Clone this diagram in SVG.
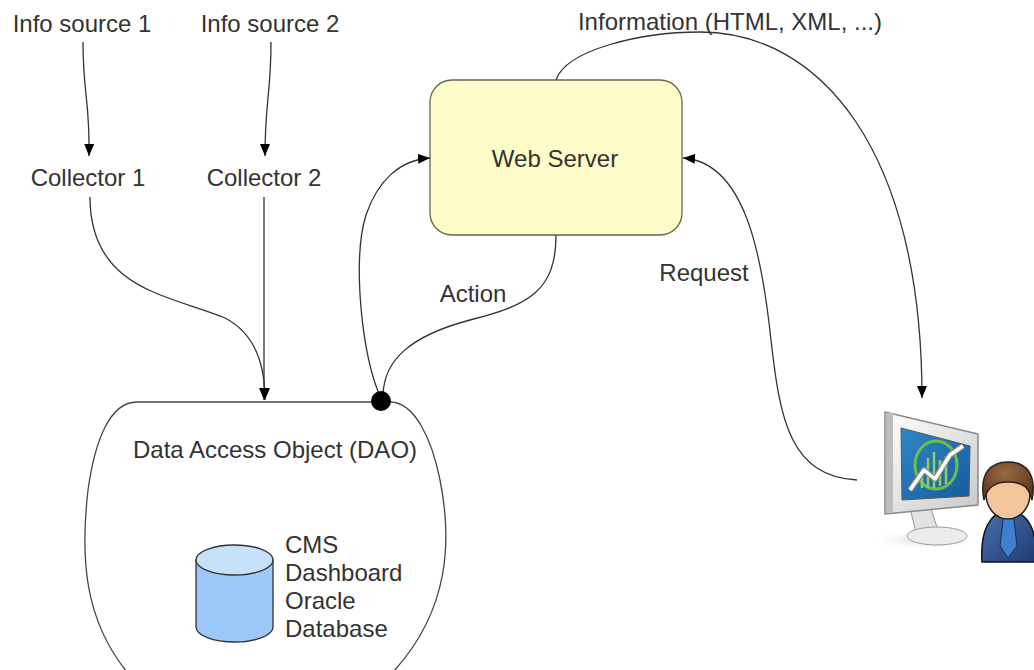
<svg xmlns="http://www.w3.org/2000/svg" width="1034" height="670" viewBox="0 0 1034 670">
  <defs>
    <style>
      .lbl { font-family: "Liberation Sans", Arial, sans-serif; font-size: 24px; fill: #333; }
      .edge { fill: none; stroke: #333; stroke-width: 1.3; }
      .shape { stroke: #444; stroke-width: 1.3; }
    </style>
    <marker id="arrow" viewBox="0 0 12 10" refX="12" refY="5" markerWidth="12" markerHeight="10" markerUnits="userSpaceOnUse" orient="auto">
      <path d="M0,0 L12,5 L0,10 Z" fill="#000"/>
    </marker>
    <linearGradient id="bezel" x1="0" y1="0" x2="1" y2="1">
      <stop offset="0" stop-color="#ffffff"/>
      <stop offset="1" stop-color="#c8c8c8"/>
    </linearGradient>
    <linearGradient id="screen" x1="0" y1="0" x2="1" y2="1">
      <stop offset="0" stop-color="#2f86c8"/>
      <stop offset="1" stop-color="#155c9c"/>
    </linearGradient>
    <radialGradient id="shadow" cx="0.5" cy="0.5" r="0.5">
      <stop offset="0" stop-color="#d8d8d8"/>
      <stop offset="1" stop-color="#ffffff" stop-opacity="0"/>
    </radialGradient>
    <linearGradient id="suit" x1="0" y1="0" x2="1" y2="1">
      <stop offset="0" stop-color="#4a6fae"/>
      <stop offset="1" stop-color="#1f3c73"/>
    </linearGradient>
    <radialGradient id="hair" cx="0.45" cy="0.3" r="0.7">
      <stop offset="0" stop-color="#9a6a45"/>
      <stop offset="1" stop-color="#5e3518"/>
    </radialGradient>
  </defs>

  <rect width="1034" height="670" fill="#fff"/>

  <!-- information sources and collectors -->
  <g id="info-source-1">
    <text class="lbl" x="82" y="32" text-anchor="middle">Info source 1</text>
  </g>
  <g id="info-source-2">
    <text class="lbl" x="270" y="32" text-anchor="middle">Info source 2</text>
  </g>
  <g id="collector-1">
    <text class="lbl" x="88" y="186" text-anchor="middle">Collector 1</text>
  </g>
  <g id="collector-2">
    <text class="lbl" x="264" y="186" text-anchor="middle">Collector 2</text>
  </g>

  <!-- web server -->
  <g id="web-server">
    <rect x="430" y="80" width="252" height="155" rx="22" ry="22" fill="#fefdc9" stroke="#66664d" stroke-width="1.3"/>
    <text class="lbl" x="555" y="167" text-anchor="middle">Web Server</text>
  </g>

  <!-- data access object with the database inside -->
  <g id="dao">
    <path class="shape" fill="#fff" d="M137,402 L390,402 C 415,402 432,440 440,480 C 452,540 450,610 393,672 L127,672 C 85,620 80,560 88,490 C 95,440 110,402 137,402 Z"/>
    <text class="lbl" x="275" y="458" text-anchor="middle">Data Access Object (DAO)</text>
  </g>
  <g id="database">
    <path d="M196,560 L196,627 A 38.5,15 0 0 0 273,627 L273,560 Z" fill="#9cc9f7" stroke="#333" stroke-width="1.3"/>
    <ellipse cx="234.5" cy="560" rx="38.5" ry="15" fill="#c8e1fb" stroke="#333" stroke-width="1.3"/>
    <text class="lbl" x="285" y="553">CMS</text>
    <text class="lbl" x="285" y="581">Dashboard</text>
    <text class="lbl" x="285" y="609">Oracle</text>
    <text class="lbl" x="285" y="637">Database</text>
  </g>

  <!-- user at a monitor -->
  <g id="user">
    <ellipse cx="925" cy="540" rx="60" ry="10" fill="url(#shadow)"/>
    <path d="M910,508 L930,506 L938,530 L916,533 Z" fill="#e2e2e2" stroke="#999" stroke-width="1"/>
    <ellipse cx="937" cy="536" rx="30" ry="9" fill="#ececec" stroke="#9a9a9a" stroke-width="1"/>
    <path d="M885,412 L978,434 L978,505 L885,514 Z" fill="url(#bezel)" stroke="#8a8a8a" stroke-width="1.5" stroke-linejoin="round"/>
    <path d="M886,413 L893,413 L893,512 L886,513 Z" fill="#bdbdbd"/>
    <path d="M901,428 L970,446 L969,496 L902,500 Z" fill="url(#screen)" stroke="#555" stroke-width="1"/>
    <ellipse cx="936" cy="465" rx="21" ry="24" fill="none" stroke="#6cc04a" stroke-width="3"/>
    <g stroke="#8fd05a" stroke-width="2.5">
      <line x1="922" y1="470" x2="922" y2="488"/>
      <line x1="928" y1="458" x2="928" y2="488"/>
      <line x1="934" y1="452" x2="934" y2="488"/>
      <line x1="940" y1="460" x2="940" y2="486"/>
      <line x1="946" y1="456" x2="946" y2="484"/>
    </g>
    <polyline points="910,490 924,470 935,479 950,455 963,446" fill="none" stroke="#8a8a8a" stroke-width="6" stroke-linejoin="round"/>
    <polyline points="910,490 924,470 935,479 950,455 963,446" fill="none" stroke="#fff" stroke-width="3.5" stroke-linejoin="round"/>
    <path d="M982,562 C 980,530 990,512 1008,510 C 1028,512 1038,530 1036,562 Z" fill="url(#suit)" stroke="#111" stroke-width="1.5"/>
    <path d="M1004,512 L1013,512 L1017,546 L1008,558 L1000,546 Z" fill="#3f7fd0" stroke="#1a2f55" stroke-width="1"/>
    <ellipse cx="1008" cy="494" rx="22" ry="25" fill="#f3c59b" stroke="#222" stroke-width="1.5"/>
    <path d="M984,500 C 979,474 990,462 1008,462 C 1026,462 1037,474 1032,500 C 1029,488 1024,482 1008,482 C 994,482 987,488 984,500 Z" fill="url(#hair)" stroke="#222" stroke-width="1.5"/>
  </g>

  <!-- connectors -->
  <g id="connectors">
    <path class="edge" d="M83,42 C 83,95 90,100 89,156" marker-end="url(#arrow)"/>
    <path class="edge" d="M271,42 C 271,95 265,100 265,156" marker-end="url(#arrow)"/>
    <path class="edge" d="M90,197 C 90,290 170,295 225,318 C 258,335 265,370 265,400" marker-end="url(#arrow)"/>
    <path class="edge" d="M264,197 L264,400" marker-end="url(#arrow)"/>
    <path class="edge" d="M381,398 C 362,360 352,260 366,215 C 378,180 400,160 430,158" marker-end="url(#arrow)"/>
    <path class="edge" d="M556,235 C 556,290 530,305 470,320 C 410,336 384,360 383,395"/>
    <path class="edge" d="M556,80 C 566,50 640,32 700,32 C 820,32 922,150 922,398" marker-end="url(#arrow)"/>
    <path class="edge" d="M857,480 C 790,476 780,420 771,340 C 762,255 745,162 683,158" marker-end="url(#arrow)"/>
    <circle cx="381" cy="401" r="10" fill="#000"/>
    <text class="lbl" x="473" y="302" text-anchor="middle">Action</text>
    <text class="lbl" x="704" y="281" text-anchor="middle">Request</text>
    <text class="lbl" x="730" y="30" text-anchor="middle">Information (HTML, XML, ...)</text>
  </g>
</svg>
